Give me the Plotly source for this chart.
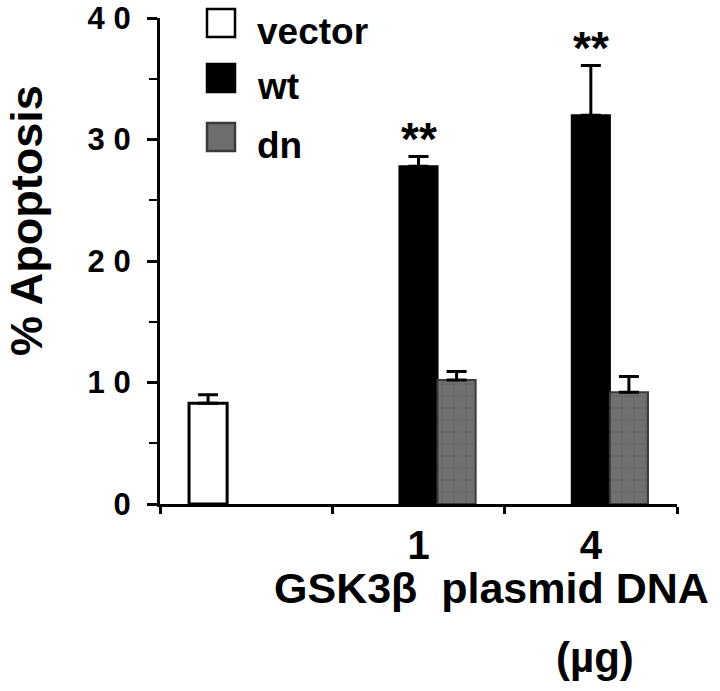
import plotly.graph_objects as go

# kategori sumbu x (kelompok pertama = kontrol vektor, tanpa label)
categories = ["vec", "1", "4"]
tick_labels = ["", "1", "4"]

vector_mean = [8.3, None, None]
vector_err = [0.7, 0, 0]
wt_mean = [None, 27.8, 32.0]
wt_err = [0, 0.8, 4.1]
dn_mean = [None, 10.2, 9.2]
dn_err = [0, 0.7, 1.3]

sig_labels = ["**", "**"]
sig_pos = [1, 2]
sig_y = [30.05, 37.55]

y_ticks = [0, 10, 20, 30, 40]
y_ticktext = ["0", "1\u2009\u200a0", "2\u2009\u200a0", "3\u2009\u200a0", "4\u2009\u200a0"]

legend_names = ["vector", "wt", "dn"]

FONT = "Arial, Liberation Sans, sans-serif"
W, H = 720, 691
L, R, T, B = 160, 43, 18, 187


def px_x(p):
    return (p - L) / (W - L - R)


def px_y(p):
    return (H - B - p) / (H - T - B)


def err(arr):
    return dict(type="data", array=arr, arrayminus=[0] * len(arr), symmetric=False,
                color="black", thickness=3, width=10)


fig = go.Figure()
fig.add_trace(go.Bar(x=categories, y=vector_mean, name="vector", error_y=err(vector_err),
                     marker=dict(color="white", line=dict(color="black", width=3))))
fig.add_trace(go.Bar(x=categories, y=wt_mean, name="wt", error_y=err(wt_err),
                     marker=dict(color="black", line=dict(color="black", width=2))))
fig.add_trace(go.Bar(x=categories, y=dn_mean, name="dn", error_y=err(dn_err),
                     marker=dict(color="#6e6e6e", line=dict(color="#3a3a3a", width=2),
                                 pattern=dict(shape="+", fgcolor="#555555", bgcolor="#707070",
                                              size=12, solidity=0.15))))

for lab, xx, yy in zip(sig_labels, sig_pos, sig_y):
    fig.add_annotation(x=xx, y=yy, text="<b>%s</b>" % lab, showarrow=False,
                       font=dict(family=FONT, size=46, color="black"),
                       xanchor="center", yanchor="middle")

# legenda manual (kotak besar seperti gambar asli)
box_y = [23, 78, 137]
box_fill = ["white", "black", "#6e6e6e"]
for name, cy, fill in zip(legend_names, box_y, box_fill):
    fig.add_shape(type="rect", xref="paper", yref="paper",
                  x0=px_x(207), x1=px_x(235), y0=px_y(cy + 14), y1=px_y(cy - 14),
                  fillcolor=fill, line=dict(color="black" if fill != "#6e6e6e" else "#3a3a3a", width=2.5))
    fig.add_annotation(xref="paper", yref="paper", x=px_x(255), y=px_y(cy + 8), text="<b>%s</b>" % name,
                       showarrow=False, xanchor="left", yanchor="middle",
                       font=dict(family=FONT, size=37, color="black"))

fig.add_annotation(xref="paper", yref="paper", x=px_x(26), y=px_y(221), text="<b>% Apoptosis</b>",
                   textangle=-90, showarrow=False, xanchor="center", yanchor="middle",
                   font=dict(family=FONT, size=45, color="black"))
fig.add_annotation(xref="paper", yref="paper", x=px_x(491), y=px_y(588),
                   text="<b>GSK3\u03b2  plasmid DNA</b>", showarrow=False,
                   xanchor="center", yanchor="middle",
                   font=dict(family=FONT, size=43, color="black"))
fig.add_annotation(xref="paper", yref="paper", x=px_x(595), y=px_y(657),
                   text="<b>(\u00b5g)</b>", showarrow=False,
                   xanchor="center", yanchor="middle",
                   font=dict(family=FONT, size=42, color="black"))

fig.update_layout(
    width=W, height=H,
    barmode="group", bargap=0.337, bargroupgap=0,
    showlegend=False,
    plot_bgcolor="white", paper_bgcolor="white",
    margin=dict(l=L, r=R, t=T, b=B, autoexpand=False),
    font=dict(family=FONT, color="black"),
)
fig.update_xaxes(
    type="category", categoryorder="array", categoryarray=categories,
    tickmode="array", tickvals=categories, ticktext=tick_labels,
    showline=True, linecolor="black", linewidth=3, automargin=False,
    ticks="outside", tickson="boundaries", ticklen=7, tickwidth=2.5, tickcolor="black",
    tickfont=dict(family=FONT, size=40, color="black", weight="bold"), ticklabelstandoff=4,
    showgrid=False, zeroline=False,
)
fig.update_yaxes(
    range=[0, 40], tickvals=y_ticks, ticktext=y_ticktext,
    showline=True, linecolor="black", linewidth=3, automargin=False,
    ticks="outside", ticklen=10, tickwidth=2.5, tickcolor="black",
    minor=dict(dtick=5, ticks="outside", ticklen=8, tickwidth=2, tickcolor="black"),
    tickfont=dict(family=FONT, size=31, color="black", weight="bold"), ticklabelstandoff=10,
    ticklabeloverflow="allow",
    showgrid=False, zeroline=False,
)

# body margin bawaan browser (8px) dihapus supaya figure pas dengan jendela
fig.write_html("out.html", config={"displayModeBar": False},
               post_script="document.body.style.margin='0px';")
